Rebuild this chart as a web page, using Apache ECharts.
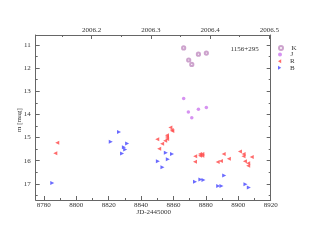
<!DOCTYPE html>
<html><head><meta charset="utf-8">
<script src="https://cdn.jsdelivr.net/npm/echarts@6/dist/echarts.min.js"></script>
<style>html,body{margin:0;padding:0;background:#fff}#c{width:314px;height:243px}</style>
</head><body><div id="c"></div>
<script>
var xTicks = [8780, 8800, 8820, 8840, 8860, 8880, 8900, 8920];
var xMinor = [8790, 8810, 8830, 8850, 8870, 8890, 8910];
var yearTicks = [2006.2, 2006.3, 2006.4, 2006.5];
var yearMinor = [2006.15, 2006.25, 2006.35, 2006.45];
var yTicks = [11, 12, 13, 14, 15, 16, 17];
var yMinor = [11.5, 12.5, 13.5, 14.5, 15.5, 16.5, 17.5];
var seriesNames = ['K', 'J', 'R', 'B'];

var kDays = [8866.3, 8869.4, 8871.3, 8875.4, 8880.3];
var kMags = [11.13, 11.65, 11.84, 11.40, 11.35];
var jDays = [8866.3, 8869.2, 8871.3, 8875.4, 8880.3];
var jMags = [13.31, 13.90, 14.15, 13.78, 13.70];
var rDays = [8788.3, 8787.1, 8850.0, 8851.2, 8853.0, 8854.9, 8856.0, 8856.0, 8856.1, 8858.1, 8858.9, 8859.3,
  8873.4, 8873.3, 8876.4, 8877.8, 8876.4, 8877.8, 8887.3, 8889.3, 8891.0, 8894.2, 8901.0, 8903.3, 8903.2,
  8904.1, 8906.1, 8906.1, 8908.3];
var rMags = [15.23, 15.68, 15.08, 15.49, 15.27, 15.14, 14.90, 14.98, 15.06, 14.57, 14.68, 14.72,
  15.81, 16.05, 15.71, 15.71, 15.79, 15.79, 16.06, 16.01, 15.71, 15.92, 15.60, 15.71, 15.81,
  16.03, 16.11, 16.22, 15.84];
var bDays = [8785.2, 8821.3, 8826.4, 8828.3, 8829.4, 8830.2, 8831.4, 8850.4, 8853.2, 8855.3, 8856.5, 8859.1,
  8873.3, 8876.6, 8878.5, 8887.6, 8889.6, 8891.3, 8904.4, 8906.5];
var bMags = [16.96, 15.18, 14.76, 15.69, 15.42, 15.52, 15.26, 16.03, 16.28, 15.66, 15.94, 15.71,
  16.91, 16.81, 16.84, 17.10, 17.10, 16.64, 17.02, 17.16];

function zip(a, b) { return a.map(function (v, i) { return [v, b[i]]; }); }

var FONT = 'Liberation Serif';
var AX = '#666';
var lab = { fontFamily: FONT, fontSize: 7, color: '#333', formatter: function (v) { return String(v); } };
var LEFT_TRI = 'path://M0,5L8,0L8,10Z';
var RIGHT_TRI = 'path://M8,5L0,0L0,10Z';
var icons = ['emptyCircle', 'circle', LEFT_TRI, RIGHT_TRI];

function xAx(pos, min, max, major, minor, show) {
  return [{
    type: 'value', position: pos, min: min, max: max,
    axisLine: { show: true, onZero: false, lineStyle: { color: AX, width: 1 } },
    axisTick: { show: true, inside: true, length: 4, customValues: major, lineStyle: { color: AX } },
    axisLabel: show ? Object.assign({ show: true, margin: 1.5, customValues: major }, lab) : { show: false },
    splitLine: { show: false }
  }, {
    type: 'value', position: pos, min: min, max: max,
    axisLine: { show: false, onZero: false },
    axisTick: { show: true, inside: true, length: 2, customValues: minor, lineStyle: { color: AX } },
    axisLabel: { show: false }, splitLine: { show: false }
  }];
}
function yAx(pos, major, minor, show) {
  return [{
    type: 'value', position: pos, min: 10.57, max: 17.7, inverse: true,
    axisLine: { show: true, onZero: false, lineStyle: { color: AX, width: 1 } },
    axisTick: { show: true, inside: true, length: 4, customValues: major, lineStyle: { color: AX } },
    axisLabel: show ? Object.assign({ show: true, margin: 5, customValues: major }, lab) : { show: false },
    splitLine: { show: false }
  }, {
    type: 'value', position: pos, min: 10.57, max: 17.7, inverse: true,
    axisLine: { show: false, onZero: false },
    axisTick: { show: true, inside: true, length: 2, customValues: minor, lineStyle: { color: AX } },
    axisLabel: { show: false }, splitLine: { show: false }
  }];
}

var legends = seriesNames.map(function (n, i) {
  return {
    orient: 'vertical', left: 278, top: 44.5 + i * 6.6, itemGap: 0, itemWidth: 4, itemHeight: 4, padding: 0,
    textStyle: { fontFamily: FONT, fontSize: 7, color: '#333', lineHeight: 5, padding: [0, 0, 0, 3.5] },
    selectedMode: false,
    data: [{ name: n, icon: icons[i], itemStyle: i === 0 ? { borderWidth: 0.8 } : {} }]
  };
});

var chart = echarts.init(document.getElementById('c'), null, { renderer: 'canvas' });
chart.setOption({
  animation: false,
  grid: { left: 35.7, right: 43.3, top: 35, bottom: 43, containLabel: false },
  xAxis: xAx('bottom', 8775, 8920, xTicks, xMinor, true)
    .concat(xAx('top', 2006.1054, 2006.5024, yearTicks, yearMinor, true)),
  yAxis: yAx('left', yTicks, yMinor, true).concat(yAx('right', yTicks, yMinor, false)),
  legend: legends,
  graphic: [
    { type: 'text', left: 230.5, top: 46, style: { text: '1156+295', font: '7px "Liberation Serif"', fill: '#333' } },
    { type: 'text', left: 136.5, top: 209, style: { text: 'JD-2445000', font: '7px "Liberation Serif"', fill: '#333' } },
    { type: 'text', x: 19, y: 120, rotation: Math.PI / 2, style: { text: 'm [mag]', font: '7px "Liberation Serif"', fill: '#333', align: 'center', verticalAlign: 'middle' } }
  ],
  series: [
    { name: 'K', type: 'scatter', xAxisIndex: 0, yAxisIndex: 0, symbol: 'emptyCircle', symbolSize: 3.2,
      itemStyle: { color: '#c08cc0', borderWidth: 0.8 }, data: zip(kDays, kMags) },
    { name: 'J', type: 'scatter', xAxisIndex: 0, yAxisIndex: 0, symbol: 'circle', symbolSize: 3.5,
      itemStyle: { color: '#cc77ee' }, data: zip(jDays, jMags) },
    { name: 'R', type: 'scatter', xAxisIndex: 0, yAxisIndex: 0, symbol: LEFT_TRI, symbolSize: [4, 4],
      itemStyle: { color: '#ff5050', opacity: 0.85 }, data: zip(rDays, rMags) },
    { name: 'B', type: 'scatter', xAxisIndex: 0, yAxisIndex: 0, symbol: RIGHT_TRI, symbolSize: [4, 4],
      itemStyle: { color: '#5050ff', opacity: 0.85 }, data: zip(bDays, bMags) }
  ]
});
</script></body></html>
